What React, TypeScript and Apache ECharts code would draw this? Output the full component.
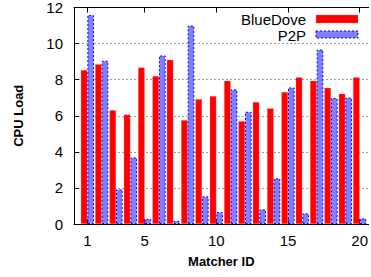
import React, { useEffect, useRef } from "react";
import * as echarts from "echarts";

const matcherIds = [1, 2, 3, 4, 5, 6, 7, 8, 9, 10, 11, 12, 13, 14, 15, 16, 17, 18, 19, 20];
const blueDove = [8.53, 8.86, 6.31, 6.07, 8.68, 8.2, 9.1, 5.76, 6.92, 7.09, 7.94, 5.7, 6.76, 6.41, 7.31, 8.14, 7.94, 7.55, 7.22, 8.14];
const p2p = [11.59, 9.05, 1.92, 3.69, 0.28, 9.34, 0.17, 11.0, 1.53, 0.66, 7.46, 6.22, 0.81, 2.53, 7.57, 0.59, 9.67, 6.98, 7.01, 0.31];
const xTicks = [1, 5, 10, 15, 20];
const yTicks = [0, 2, 4, 6, 8, 10, 12];
const seriesNames = ["BlueDove", "P2P"];

const FONT = "Liberation Sans, Arial, Helvetica, sans-serif";
const RED = "#ff0000";
const BLUE_FILL = "#8080ff";
const BLUE_EDGE = "#0000ff";

export default function App() {
  const ref = useRef<HTMLDivElement>(null);
  useEffect(() => {
    if (!ref.current) return;
    const chart = echarts.init(ref.current, undefined, { renderer: "svg" });
    const xMin = 0.066;
    const xMax = 20.624;
    const axisCommon = {
      type: "value" as const,
      min: xMin,
      max: xMax,
      axisLine: { show: true, lineStyle: { color: "#000", width: 1 } },
      axisTick: { show: true, inside: true, length: 5, customValues: xTicks, lineStyle: { color: "#000" } },
      splitLine: { show: false },
    };
    chart.setOption({
      animation: false,
      grid: { left: 74, top: 7, right: 0, bottom: 53 },
      xAxis: [
        {
          ...axisCommon,
          position: "bottom",
          name: "Matcher ID",
          nameLocation: "middle",
          nameGap: 31,
          nameTextStyle: { fontFamily: FONT, fontSize: 13, fontWeight: "bold", color: "#000" },
          axisLabel: { customValues: xTicks, fontFamily: FONT, fontSize: 15, color: "#000", margin: 9 },
        },
        {
          ...axisCommon,
          position: "top",
          axisLabel: { show: false },
        },
      ],
      yAxis: {
        type: "value",
        min: 0,
        max: 12,
        interval: 2,
        name: "CPU Load",
        nameLocation: "middle",
        nameRotate: 90,
        nameGap: 49,
        nameTextStyle: { fontFamily: FONT, fontSize: 13, fontWeight: "bold", color: "#000" },
        axisLine: { show: true, lineStyle: { color: "#000", width: 1 } },
        axisTick: { show: true, inside: true, length: 5, lineStyle: { color: "#000" } },
        axisLabel: {
          fontFamily: FONT,
          fontSize: 15,
          color: "#000",
          margin: 11,
          customValues: yTicks,
        },
        splitLine: { show: true, lineStyle: { color: "#a0a0a0", type: [2, 2], width: 1 } },
      },
      series: [
        {
          name: seriesNames[0],
          type: "bar",
          xAxisIndex: 0,
          barWidth: 6.6,
          barGap: "0%",
          itemStyle: { color: RED, borderColor: "rgba(255,120,120,0.6)", borderWidth: 0.5 },
          data: matcherIds.map((id, i) => [id, blueDove[i]]),
        },
        {
          name: seriesNames[1],
          type: "bar",
          xAxisIndex: 0,
          barWidth: 6.6,
          barGap: "0%",
          itemStyle: { color: BLUE_FILL, borderColor: BLUE_EDGE, borderWidth: 1, borderType: [2, 2] },
          data: matcherIds.map((id, i) => [id, p2p[i]]),
        },
      ],
      graphic: [
        {
          type: "text",
          x: 306,
          y: 19,
          style: { text: seriesNames[0], fontFamily: FONT, fontSize: 15, fill: "#000", align: "right", verticalAlign: "middle" },
        },
        {
          type: "rect",
          shape: { x: 316, y: 15, width: 42, height: 8 },
          style: { fill: RED, stroke: "rgba(255,120,120,0.6)", lineWidth: 0.5 },
        },
        {
          type: "text",
          x: 306,
          y: 35,
          style: { text: seriesNames[1], fontFamily: FONT, fontSize: 15, fill: "#000", align: "right", verticalAlign: "middle" },
        },
        {
          type: "rect",
          shape: { x: 316, y: 31, width: 42, height: 7 },
          style: { fill: BLUE_FILL, stroke: BLUE_EDGE, lineWidth: 1, lineDash: [2, 2] },
        },
      ],
    });
    return () => chart.dispose();
  }, []);
  return (
    <div
      ref={ref}
      style={{ position: "fixed", left: 0, top: 0, width: 371, height: 277, background: "#fff" }}
    />
  );
}
